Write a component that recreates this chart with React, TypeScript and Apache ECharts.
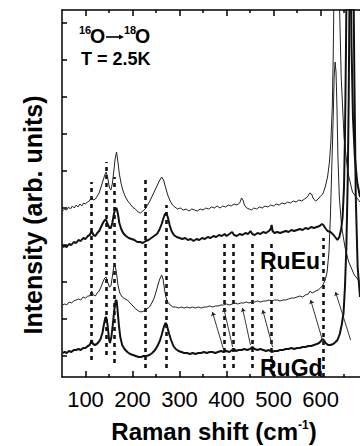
import React, { useEffect, useRef } from 'react';
import * as echarts from 'echarts';

const FONT = '"Liberation Sans", Arial, Helvetica, sans-serif';

const xMajorTicks = [100, 200, 300, 400, 500, 600];
const xMinorTicks = [150, 250, 350, 450, 550, 650];
const yTicks = [21, 58, 95, 132, 169, 206, 243, 280, 317, 354];

// Raman shift (cm-1), intensity (arb. units, stacked)
const ruEu16O: number[][] = [[51,166],[56,168],[60,167],[64,170],[68,168],[72,171],[76,169],[80,172],[84,170],[88,173],[92,171],[96,174],[100,173],[104,175],[108,176],[113,180],[117,177],[121,178],[125,181],[129,184],[133,190],[137,196],[141,202],[144,205],[147,200],[151,189],[154,187],[157,193],[160,205],[163,218],[166,225],[169,215],[172,203],[176,193],[180,186],[185,180],[190,176],[195,173],[200,170],[206,168],[212,165],[217,164],[222,166],[227,168],[232,172],[237,176],[242,181],[247,186],[252,191],[257,196],[262,200],[266,197],[270,190],[275,182],[280,176],[285,172],[290,170],[296,168],[302,169],[308,167],[314,168],[320,166],[326,168],[332,167],[338,166],[344,168],[350,167],[356,169],[362,168],[368,170],[374,169],[380,171],[386,169],[392,171],[398,170],[404,172],[410,171],[416,173],[422,172],[428,174],[432,179],[435,177],[438,172],[443,169],[448,168],[453,167],[458,169],[464,168],[470,170],[476,169],[482,171],[488,170],[494,172],[500,171],[506,173],[512,172],[518,174],[524,173],[530,175],[536,174],[542,176],[548,175],[554,177],[560,176],[566,178],[572,180],[577,184],[581,183],[585,178],[590,176],[595,178],[600,181],[605,183],[610,190],[615,200],[619,215],[622,235],[625,270],[627,320],[629,400],[631,450],[637,450],[640,380],[644,300],[650,240],[658,205],[668,185],[684,175]];

const ruEu18O: number[][] = [[51,130],[56,131],[60,130],[65,133],[70,132],[75,135],[80,134],[85,137],[90,136],[95,139],[100,138],[105,141],[109,142],[113,146],[117,142],[121,141],[125,144],[129,146],[133,150],[137,154],[141,157],[144,157],[147,153],[151,149],[154,149],[157,154],[160,162],[163,168],[166,169],[169,163],[172,154],[176,148],[180,144],[186,141],[192,139],[198,138],[204,137],[210,135],[216,135],[222,134],[228,136],[234,137],[240,139],[246,141],[252,143],[257,147],[262,153],[266,159],[269,163],[272,164],[275,160],[279,152],[283,146],[288,142],[294,140],[300,139],[306,138],[312,139],[318,137],[324,138],[330,136],[336,138],[342,137],[348,139],[354,138],[360,140],[366,139],[372,141],[378,140],[384,142],[390,141],[396,143],[400,141],[406,143],[412,145],[416,142],[422,141],[428,143],[434,142],[440,144],[446,143],[451,146],[455,143],[460,142],[466,144],[472,143],[478,145],[484,144],[490,146],[494,148],[496,152],[498,146],[502,144],[508,145],[514,144],[520,145],[526,146],[532,145],[538,147],[544,146],[550,147],[556,148],[562,147],[568,149],[574,148],[580,150],[586,149],[592,150],[598,151],[603,153],[606,152],[610,149],[615,146],[621,145],[626,143],[631,140],[636,137],[640,140],[644,148],[647,160],[650,190],[652,240],[654,320],[656,420],[664,420],[666,330],[669,260],[673,220],[678,195],[684,180]];

const ruGd16O: number[][] = [[51,72],[56,73],[60,72],[65,75],[70,74],[75,76],[80,77],[85,78],[90,77],[95,80],[100,79],[105,81],[109,81],[113,86],[117,82],[121,81],[125,84],[129,86],[133,90],[137,95],[141,99],[144,100],[147,95],[151,90],[154,91],[157,100],[160,110],[163,112],[166,104],[169,92],[173,84],[178,80],[184,78],[189,77],[195,74],[201,71],[207,68],[213,66],[218,65],[224,66],[230,68],[236,70],[241,74],[246,79],[250,85],[254,92],[258,98],[262,102],[265,98],[268,88],[271,80],[275,75],[280,72],[286,70],[292,70],[298,69],[304,70],[310,69],[316,70],[322,69],[328,70],[334,69],[340,70],[346,69],[352,70],[358,70],[364,71],[370,70],[376,71],[382,71],[388,72],[394,72],[400,73],[406,72],[412,73],[418,74],[424,73],[430,74],[436,74],[442,75],[448,74],[454,75],[460,75],[466,76],[472,75],[478,76],[484,76],[490,77],[496,76],[502,77],[508,77],[514,76],[520,77],[526,77],[532,78],[538,79],[544,79],[550,80],[556,81],[562,80],[568,82],[574,83],[578,86],[582,84],[586,85],[590,86],[595,87],[600,89],[605,92],[610,97],[614,105],[618,125],[621,160],[624,210],[627,260],[629,300],[631,315],[633,305],[635,270],[637,220],[640,180],[645,150],[652,130],[660,115],[672,102],[684,95]];

const ruGd18O: number[][] = [[51,24],[56,25],[60,24],[65,26],[70,25],[75,27],[80,27],[85,28],[90,27],[95,29],[100,29],[105,31],[109,32],[113,37],[116,33],[120,32],[124,33],[128,35],[132,38],[136,44],[139,52],[142,59],[144,60],[147,52],[150,38],[152,34],[155,40],[158,52],[161,66],[164,76],[166,77],[168,68],[171,52],[174,40],[178,32],[183,28],[189,25],[195,23],[201,22],[207,21],[213,20],[218,20],[224,21],[230,21],[236,22],[242,24],[248,27],[253,31],[258,36],[262,42],[266,49],[269,53],[271,54],[274,50],[278,43],[282,37],[287,31],[292,28],[298,26],[304,25],[310,24],[316,24],[322,23],[328,24],[334,23],[340,24],[346,24],[352,25],[358,24],[364,25],[370,25],[376,24],[382,25],[388,26],[394,25],[400,26],[406,25],[412,27],[416,28],[420,26],[426,27],[432,27],[438,28],[444,27],[450,28],[455,30],[460,28],[466,27],[472,28],[478,27],[484,26],[490,27],[496,25],[502,26],[508,26],[514,27],[520,27],[526,28],[532,28],[538,29],[544,28],[550,29],[556,29],[562,30],[568,30],[574,31],[580,31],[586,32],[592,33],[597,34],[601,36],[604,38],[607,37],[611,34],[616,32],[621,32],[627,33],[632,35],[636,37],[641,43],[645,52],[649,64],[652,90],[655,130],[658,200],[660,280],[662,400],[670,400],[672,300],[675,180],[679,110],[684,80]];

// vertical dotted guide lines
const dottedX = [113, 145, 162, 228, 272, 396, 415, 455, 496, 606];
const dottedTop = [195, 215, 200, 199, 172, 134, 134, 134, 134, 139];
const dottedBottom = [17, 22, 14, 9, 9, 9, 9, 9, 9, 0];

// isotope-shift arrows (start = arrow head end)
const arrowStart = [[370, 65], [394, 69], [434, 69], [477, 67], [579, 77], [632, 85]];
const arrowEnd = [[394, 27], [413, 30], [451, 32], [498, 30], [604, 37], [664, 37]];

const X_MIN = 50;
const X_MAX = 684;

function App() {
  const ref = useRef<HTMLDivElement>(null);

  useEffect(() => {
    if (!ref.current) return;
    const chart = echarts.init(ref.current, undefined, { renderer: 'svg' });
    const axisLineStyle = { color: '#000', width: 1.5 };
    const xBase = {
      type: 'value' as const,
      min: X_MIN,
      max: X_MAX,
      gridIndex: 0,
      splitLine: { show: false },
    };
    const spectrum = (data: number[][], thick: boolean, name: string) => ({
      type: 'line',
      name,
      data,
      xAxisIndex: 0,
      yAxisIndex: 0,
      showSymbol: false,
      symbol: 'none',
      clip: true,
      lineStyle: { color: thick ? '#111' : '#222', width: thick ? 2 : 1 },
      z: thick ? 4 : 3,
      silent: true,
    });
    const boldText = (text: string, x: number, y: number, fontSize: number) => ({
      type: 'text',
      x,
      y,
      z: 10,
      style: { text, fontSize, fontWeight: 'bold', fontFamily: FONT, fill: '#000', align: 'left', verticalAlign: 'middle' },
    });

    chart.setOption({
      animation: false,
      backgroundColor: '#fff',
      grid: { left: 62, right: 0, top: 10, bottom: 69, containLabel: false, outerBoundsMode: 'none' },
      xAxis: [
        {
          ...xBase,
          position: 'bottom',
          axisLine: { show: true, lineStyle: axisLineStyle },
          axisTick: { show: true, inside: true, length: 6, customValues: xMajorTicks, lineStyle: axisLineStyle },
          axisLabel: {
            show: true,
            customValues: xMajorTicks,
            fontSize: 22,
            color: '#000',
            fontFamily: FONT,
            margin: 11,
          },
        },
        {
          ...xBase,
          position: 'bottom',
          axisLine: { show: false },
          axisTick: { show: true, inside: true, length: 3, customValues: xMinorTicks, lineStyle: axisLineStyle },
          axisLabel: { show: false },
        },
        {
          ...xBase,
          position: 'top',
          axisLine: { show: true, lineStyle: axisLineStyle },
          axisTick: { show: true, inside: true, length: 6, customValues: xMajorTicks, lineStyle: axisLineStyle },
          axisLabel: { show: false },
        },
        {
          ...xBase,
          position: 'top',
          axisLine: { show: false },
          axisTick: { show: true, inside: true, length: 3, customValues: xMinorTicks, lineStyle: axisLineStyle },
          axisLabel: { show: false },
        },
      ],
      yAxis: {
        type: 'value',
        min: 0,
        max: 367,
        axisLine: { show: true, lineStyle: axisLineStyle },
        axisTick: { show: true, inside: true, length: 5, customValues: yTicks, lineStyle: axisLineStyle },
        axisLabel: { show: false },
        splitLine: { show: false },
      },
      series: [
        spectrum(ruEu16O, false, 'RuEu 16O'),
        spectrum(ruEu18O, true, 'RuEu 18O'),
        spectrum(ruGd16O, false, 'RuGd 16O'),
        spectrum(ruGd18O, true, 'RuGd 18O'),
        {
          type: 'lines',
          coordinateSystem: 'cartesian2d',
          xAxisIndex: 0,
          yAxisIndex: 0,
          silent: true,
          symbol: 'none',
          lineStyle: { color: '#111', width: 2.6, type: [4, 4], opacity: 1 },
          data: dottedX.map((x, i) => ({ coords: [[x, dottedBottom[i]], [x, dottedTop[i]]] })),
          z: 2,
        },
        {
          type: 'lines',
          coordinateSystem: 'cartesian2d',
          xAxisIndex: 0,
          yAxisIndex: 0,
          silent: true,
          symbol: ['arrow', 'none'],
          symbolSize: 4,
          lineStyle: { color: '#222', width: 0.9, opacity: 1 },
          data: arrowStart.map((s, i) => ({ coords: [s, arrowEnd[i]] })),
          z: 5,
        },
      ],
      graphic: [
        boldText('16', 79, 29.5, 11),
        boldText('O', 90, 36, 19.5),
        { type: 'line', shape: { x1: 106, y1: 37, x2: 121, y2: 37 }, style: { stroke: '#000', lineWidth: 1.6 } },
        { type: 'polygon', shape: { points: [[119, 34.5], [124, 37], [119, 39.5]] }, style: { fill: '#000' } },
        boldText('18', 124, 29.5, 11),
        boldText('O', 135, 36, 19.5),
        boldText('T = 2.5K', 81, 58.5, 18),
        boldText('RuEu', 260, 260.5, 23),
        boldText('RuGd', 260, 368, 23),
        {
          type: 'text',
          x: 214,
          y: 431,
          style: {
            text: '{m|Raman shift (cm}{s|-1}{m|)}',
            align: 'center',
            verticalAlign: 'middle',
            rich: {
              m: { fontSize: 24, fontWeight: 'bold', fontFamily: FONT, fill: '#000' },
              s: { fontSize: 12, fontWeight: 'bold', fontFamily: FONT, fill: '#000', verticalAlign: 'top' },
            },
          },
        },
        {
          type: 'text',
          x: 33,
          y: 215,
          rotation: Math.PI / 2,
          style: { text: 'Intensity (arb. units)', fontSize: 25, fontWeight: 'bold', fontFamily: FONT, fill: '#000', align: 'center', verticalAlign: 'middle' },
        },
      ],
    });
    return () => chart.dispose();
  }, []);

  return (
    <div
      ref={ref}
      style={{ position: 'fixed', left: 0, top: 0, width: 360, height: 446, background: '#fff' }}
    />
  );
}

export default App;
